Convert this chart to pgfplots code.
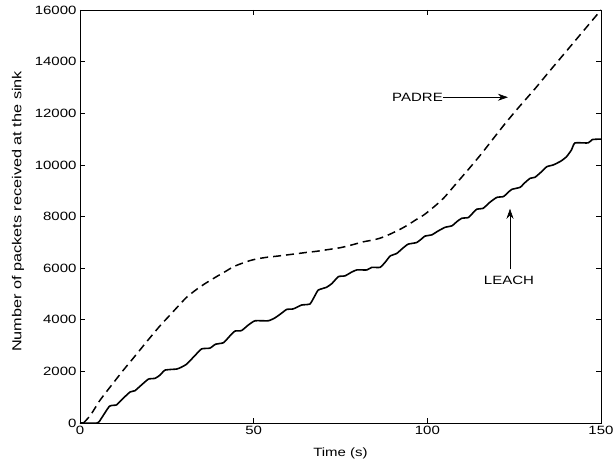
\documentclass[border=0pt]{standalone}
\usepackage{pgfplots}
\pgfplotsset{compat=1.18}
\usepackage{fontspec}
\setmainfont[FakeStretch=1.25]{Liberation Sans}
\usetikzlibrary{arrows.meta}
\begin{document}
\begin{tikzpicture}[font=\fontsize{12}{14}\selectfont]
\begin{axis}[
  scale only axis,
  width=521pt, height=413pt,
  xmin=0, xmax=150, ymin=0, ymax=16000,
  xtick={0,50,100,150},
  ytick={0,2000,4000,6000,8000,10000,12000,14000,16000},
  scaled y ticks=false,
  /pgf/number format/assume math mode=true,
  y tick label style={/pgf/number format/set thousands separator={}},
  tick align=inside,
  major tick length=5pt,
  tick style={black, line width=0.5pt},
  axis line style={black, line width=0.9pt},
  xlabel={Time (s)},
  ylabel={Number of packets received at the sink},
  xlabel style={at={(axis description cs:0.5,0)}, anchor=center, yshift=-30pt},
  ylabel style={at={(axis description cs:0,0.5)}, anchor=center, yshift=62pt, xshift=5pt, font=\fontsize{13}{15}\selectfont},
  clip=false,
]
\coordinate (bl) at (rel axis cs:0,0);
% PADRE (dashed)
\addplot[black, line width=1.5pt, dash pattern=on 8pt off 5pt, smooth, tension=0.4] coordinates {
(1,0) (3,300) (5.8,890) (9,1450) (12.5,2050) (16,2620) (19.2,3150) (23,3760)
(25.9,4180) (28.5,4560) (30.7,4870) (33.6,5180) (36,5400) (39.3,5670) (42,5880)
(44.1,6050) (46.5,6180) (48.9,6290) (51,6360) (53.8,6420) (56.5,6460) (59.5,6510)
(62.5,6560) (65.3,6610) (68,6650) (71,6710) (74.9,6790) (78,6890) (81.6,7020)
(84,7080) (86.4,7160) (89,7300) (92.1,7500) (94.5,7680) (96.9,7890) (99,8060)
(100.8,8250) (103,8500) (105.1,8770) (108.4,9290) (112.3,9900) (115.7,10450)
(119,11020) (122.4,11600) (126,12180) (131,12950) (135,13600) (140,14400)
(145,15200) (150,16000)
};
% LEACH (solid)
\addplot[black, line width=1.6pt, smooth, tension=0.3] coordinates {
(0,0) (5,0) (6,150) (8.5,650) (10.5,700) (12,900) (14.4,1200) (15.8,1250)
(17.5,1450) (19.7,1700) (21.6,1730) (23,1850) (24.5,2050) (27.8,2090) (29,2150)
(30.7,2280) (33,2600) (35,2870) (37.4,2900) (39,3050) (41.3,3110) (43,3350)
(44.6,3560) (46.5,3580) (48.5,3800) (50.4,3960) (54.2,3960) (56.1,4070)
(58,4250) (59.5,4400) (61.4,4420) (63.8,4570) (66.2,4610) (67.5,4900)
(68.6,5150) (71,5260) (72.5,5400) (74.4,5670) (76.3,5700) (78,5830) (79.7,5930)
(82.6,5930) (84,6030) (86.4,6030) (88,6250) (89.3,6470) (91.2,6570) (93,6780)
(94.5,6930) (96.9,6990) (98.5,7150) (99.3,7240) (101.3,7290) (103,7430)
(105.1,7580) (107.1,7640) (108.5,7800) (109.9,7930) (111.8,7960) (113,8120)
(114.2,8280) (116.1,8320) (118,8550) (120,8740) (121.9,8770) (123,8900)
(124.3,9050) (126.7,9130) (128,9300) (129.6,9480) (131,9520) (133,9750)
(134.4,9930) (136.3,10000) (138.5,10150) (140.1,10320) (141.5,10580)
(142.5,10850) (146.3,10850) (147.5,10980) (150,11000)
};
% annotations
\draw[-{Stealth[length=10pt,width=7pt]}, line width=0.6pt] (axis cs:104.5,12620) -- (axis cs:123.2,12620);
\node[anchor=east, inner sep=0pt] at (axis cs:104.5,12620) {PADRE};
\node at (axis cs:123.5,5540) {LEACH};
\draw[-{Stealth[length=10pt,width=7pt]}, line width=0.6pt] (axis cs:123.8,5950) -- (axis cs:123.8,8300);
\end{axis}
\pgfresetboundingbox
\path[use as bounding box] (bl) ++(-80pt,-43pt) rectangle ++(614pt,466pt);
\end{tikzpicture}
\end{document}
